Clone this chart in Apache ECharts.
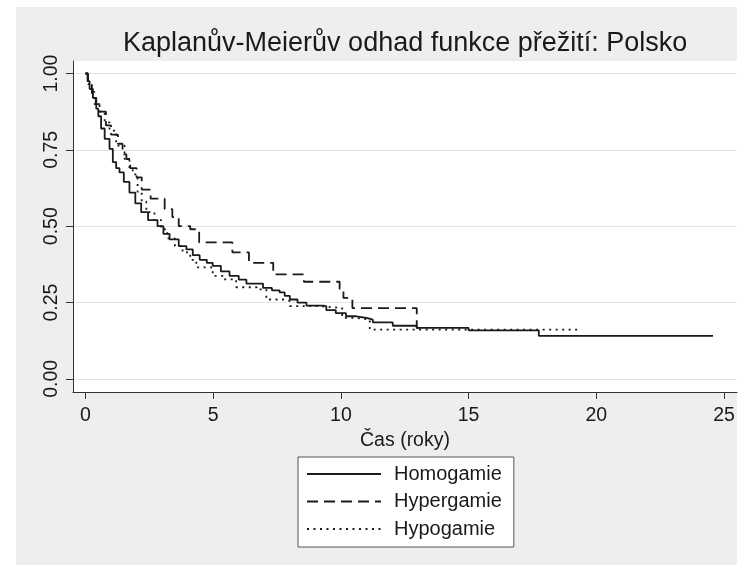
<!DOCTYPE html>
<html>
<head>
<meta charset="utf-8">
<script src="https://cdn.jsdelivr.net/npm/echarts@6/dist/echarts.min.js"></script>
<style>
  html, body { margin: 0; padding: 0; background: #fff; }
  #chart { width: 738px; height: 566px; }
</style>
</head>
<body>
<div id="chart"></div>
<script>
const seriesNames = ["Homogamie", "Hypergamie", "Hypogamie"];
const xTicks = [0, 5, 10, 15, 20, 25];
const yTicks = [0, 0.25, 0.5, 0.75, 1];

// Kaplan-Meier steps: time (years) and survival after each drop
const homoTime = [0, 0.08, 0.16, 0.29, 0.42, 0.5, 0.61, 0.75, 0.94, 1.07, 1.2, 1.33, 1.5, 1.72, 1.95, 2.18, 2.45, 2.82, 3.05, 3.29, 3.65, 3.95, 4.2, 4.47, 4.75, 4.98, 5.3, 5.64, 6.0, 6.3, 6.95, 7.3, 7.6, 7.8, 8.0, 8.3, 8.65, 9.3, 9.43, 9.8, 10.2, 10.6, 11.0, 11.25, 12.03, 12.97, 15.0, 17.75, 24.57];
const homoSurv = [1.0, 0.975, 0.95, 0.92, 0.885, 0.86, 0.82, 0.786, 0.753, 0.71, 0.69, 0.676, 0.645, 0.61, 0.575, 0.546, 0.52, 0.5, 0.475, 0.457, 0.435, 0.424, 0.405, 0.39, 0.38, 0.37, 0.352, 0.337, 0.325, 0.312, 0.298, 0.29, 0.283, 0.272, 0.26, 0.25, 0.24, 0.238, 0.225, 0.215, 0.205, 0.2, 0.194, 0.185, 0.174, 0.167, 0.159, 0.141, 0.141];

const hyperTime = [0, 0.1, 0.25, 0.4, 0.55, 0.8, 1.0, 1.27, 1.45, 1.6, 1.75, 2.0, 2.2, 2.55, 3.1, 3.4, 3.65, 4.1, 4.35, 4.45, 5.75, 6.4, 7.35, 8.55, 9.95, 10.1, 10.45, 12.97, 13.1];
const hyperSurv = [1.0, 0.97, 0.935, 0.9, 0.875, 0.83, 0.8, 0.77, 0.735, 0.72, 0.69, 0.66, 0.62, 0.59, 0.556, 0.53, 0.5, 0.49, 0.48, 0.447, 0.414, 0.38, 0.342, 0.318, 0.295, 0.265, 0.232, 0.167, 0.167];

const hypoTime = [0, 0.1, 0.2, 0.35, 0.55, 0.75, 0.94, 1.2, 1.53, 1.72, 1.85, 2.04, 2.2, 2.38, 2.7, 2.96, 3.2, 3.5, 3.8, 4.1, 4.34, 4.98, 5.37, 5.9, 6.7, 7.08, 7.87, 8.0, 9.2, 10.05, 10.6, 11.13, 19.4];
const hypoSurv = [1.0, 0.965, 0.94, 0.9, 0.875, 0.84, 0.813, 0.764, 0.72, 0.685, 0.67, 0.61, 0.58, 0.546, 0.52, 0.49, 0.46, 0.435, 0.414, 0.39, 0.365, 0.337, 0.326, 0.3, 0.293, 0.26, 0.254, 0.238, 0.232, 0.2, 0.194, 0.161, 0.161];

const pairs = (xs, ys) => xs.map((x, i) => [x, ys[i]]);

const FONT = "'Liberation Sans', Arial, sans-serif";
const INK = "#1a1a1a";

const lineSeries = (name, data, type) => ({
  name,
  type: "line",
  step: "end",
  symbol: "none",
  data,
  lineStyle: { color: INK, width: 1.8, type, cap: "butt" },
  itemStyle: { color: INK }
});

const chart = echarts.init(document.getElementById("chart"), null, { renderer: "canvas" });

chart.setOption({
  animation: false,
  backgroundColor: "#fff",
  graphic: [
    {
      type: "rect",
      z: -10,
      shape: { x: 16, y: 7, width: 721, height: 558 },
      style: { fill: "#eeeeee" },
      silent: true
    }
  ],
  title: {
    text: "Kaplanův-Meierův odhad funkce přežití: Polsko",
    left: 123,
    top: 30,
    padding: 0,
    textStyle: { fontFamily: FONT, fontSize: 27, fontWeight: "normal", color: INK }
  },
  grid: {
    left: 73,
    top: 61,
    right: 1,
    bottom: 174,
    show: true,
    backgroundColor: "#fff",
    borderWidth: 0,
    containLabel: false,
    outerBoundsMode: "none"
  },
  legend: {
    data: seriesNames,
    orient: "vertical",
    left: 298,
    top: 457,
    padding: [7, 12, 8, 8],
    itemGap: 7.5,
    itemWidth: 74,
    itemHeight: 2,
    backgroundColor: "#fff",
    borderColor: "#555",
    borderWidth: 1,
    itemStyle: { opacity: 0 },
    textStyle: { fontFamily: FONT, fontSize: 20, color: INK, padding: [0, 0, 0, 8] }
  },
  xAxis: {
    type: "value",
    min: -0.49,
    max: 25.51,
    name: "Čas (roky)",
    nameLocation: "middle",
    nameGap: 34,
    nameTextStyle: { fontFamily: FONT, fontSize: 19.5, color: INK },
    axisLine: { show: true, onZero: false, lineStyle: { color: "#333", width: 1 } },
    axisTick: { show: true, length: 7, customValues: xTicks, lineStyle: { color: "#333" } },
    axisLabel: { customValues: xTicks, margin: 14, fontFamily: FONT, fontSize: 19.5, color: INK },
    splitLine: { show: false }
  },
  yAxis: {
    type: "value",
    min: -0.043,
    max: 1.041,
    axisLine: { show: true, onZero: false, lineStyle: { color: "#333", width: 1 } },
    axisTick: { show: true, length: 7, customValues: yTicks, lineStyle: { color: "#333" } },
    axisLabel: {
      customValues: yTicks,
      rotate: 90,
      margin: 11,
      fontFamily: FONT,
      fontSize: 19.5,
      color: INK,
      formatter: (v) => v.toFixed(2)
    },
    splitLine: { show: true, lineStyle: { color: "#e4e4e4", width: 1 } }
  },
  series: [
    lineSeries(seriesNames[0], pairs(homoTime, homoSurv), "solid"),
    lineSeries(seriesNames[1], pairs(hyperTime, hyperSurv), [11, 6]),
    lineSeries(seriesNames[2], pairs(hypoTime, hypoSurv), [2, 4.5])
  ]
});
</script>
</body>
</html>
